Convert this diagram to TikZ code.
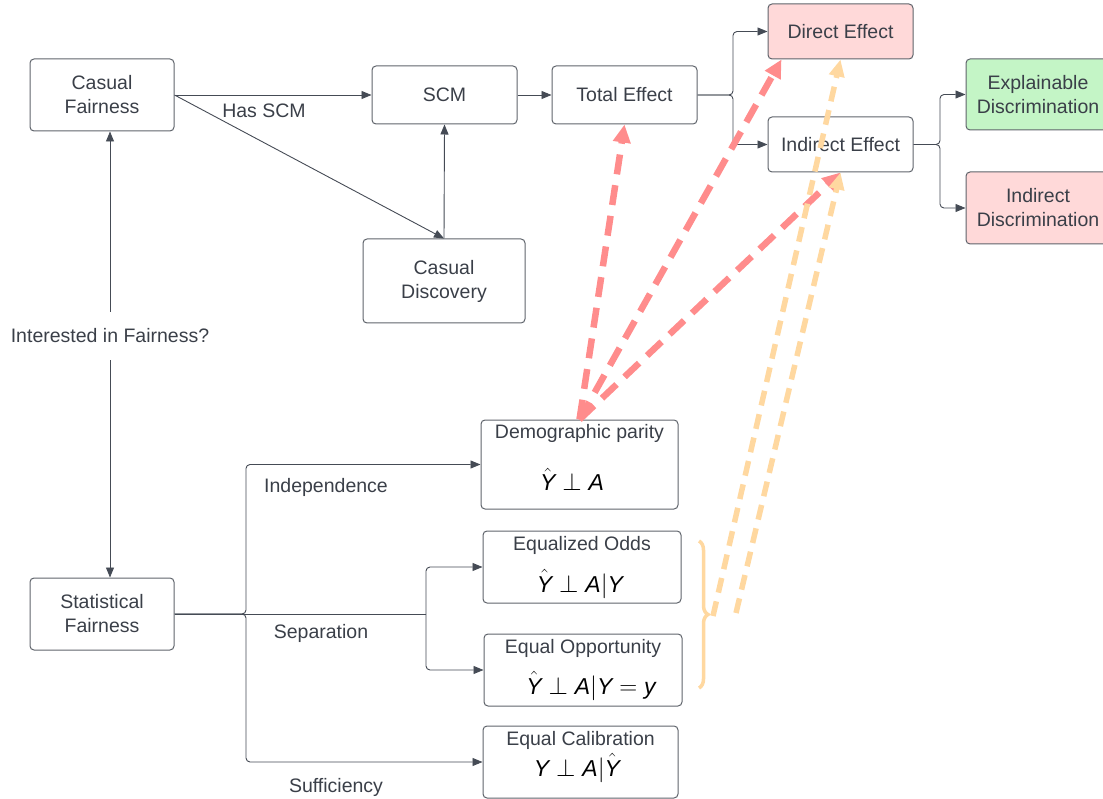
\documentclass[tikz,border=0pt]{standalone}
\usepackage{fontspec}
\setmainfont{Liberation Sans}
\usetikzlibrary{arrows.meta,decorations.pathreplacing,calc}
\definecolor{txt}{HTML}{3A3F48}
\definecolor{bord}{HTML}{5F646B}
\definecolor{arrc}{HTML}{454B55}
\definecolor{pinkfill}{HTML}{FFD9D9}
\definecolor{greenfill}{HTML}{C4F5C6}
\definecolor{reddash}{HTML}{FF8C8C}
\definecolor{orangedash}{HTML}{FFD8A0}
\newcommand{\sv}[1]{\hbox{\itshape #1}}
\begin{document}
\begin{tikzpicture}[x=1pt,y=-1pt,
  every node/.style={text=txt, font=\fontsize{19.5}{24}\selectfont},
  box/.style={draw=bord, line width=1pt, rounded corners=4pt, align=center, inner sep=0pt},
  lbl/.style={inner sep=0pt},
  mth/.style={inner sep=0pt, text=black, font=\fontsize{23}{26}\selectfont},
  arr/.style={draw=arrc, line width=0.9pt, -{Triangle[length=10pt,width=8pt]}},
  ln/.style={draw=arrc, line width=0.9pt},
  rdash/.style={draw=reddash, line width=6.5pt, dash pattern=on 20pt off 11pt, -{Triangle[length=18pt,width=17pt]}},
  odash/.style={draw=orangedash, line width=5.5pt, dash pattern=on 15pt off 9pt, -{Triangle[length=17pt,width=15pt]}}
]
\useasboundingbox (0,0) rectangle (1103,799);
\clip (0,0) rectangle (1103,799);

% top part
\node[box, minimum width=144pt, minimum height=72pt] (cf) at (102,95) {Casual\\Fairness};
\node[box, minimum width=145pt, minimum height=58pt] (scm) at (444.5,95) {SCM};
\node[box, minimum width=145pt, minimum height=58pt] (te) at (624.5,95) {Total Effect};
\node[box, fill=pinkfill, minimum width=145pt, minimum height=55pt] (de) at (840.5,31.5) {Direct Effect};
\node[box, minimum width=145pt, minimum height=55pt] (ie) at (840.5,144.5) {Indirect Effect};
\node[box, fill=greenfill, minimum width=144pt, minimum height=71pt] (ed) at (1038,94.5) {Explainable\\Discrimination};
\node[box, fill=pinkfill, minimum width=144pt, minimum height=72pt] (id) at (1038,208) {Indirect\\Discrimination};
\node[box, minimum width=162pt, minimum height=84pt] (cd) at (444,281) {Casual\\Discovery};
\node[lbl, minimum height=48pt] (ifq) at (110,336) {Interested in Fairness?};
\node[lbl] (hasscm) at (264,111) {Has SCM};

% bottom part
\node[box, minimum width=144pt, minimum height=72pt] (sf) at (102,614) {Statistical\\Fairness};
\node[box, minimum width=197pt, minimum height=89pt] (dp) at (579.5,464.5) {};
\node[lbl] (dpt) at (579.5,433) {Demographic parity};
\node[mth] (dpm) at (572,479) {$\hat{\sv{Y}}\perp \sv{A}$};
\node[box, minimum width=198pt, minimum height=72pt] (eo) at (582,567) {};
\node[lbl] (eot) at (582,545) {Equalized Odds};
\node[mth] (eom) at (580,584) {$\hat{\sv{Y}}\perp \sv{A}|\sv{Y}$};
\node[box, minimum width=198pt, minimum height=72pt] (eop) at (583,670) {};
\node[lbl] (eopt) at (583,648) {Equal Opportunity};
\node[mth] (eopm) at (591,686) {$\hat{\sv{Y}}\perp \sv{A}|\sv{Y}=\sv{y}$};
\node[box, minimum width=195pt, minimum height=72pt] (ec) at (580.5,762) {};
\node[lbl] (ect) at (580.5,740) {Equal Calibration};
\node[mth] (ecm) at (577,768) {$\sv{Y}\perp \sv{A}|\hat{\sv{Y}}$};

\node[lbl] (indep) at (326,487) {Independence};
\node[lbl] (sep) at (321,633) {Separation};
\node[lbl] (suff) at (336,787) {Sufficiency};

% connectors top
\draw[arr] (ifq.north) -- (ifq.north |- cf.south);
\draw[arr] (ifq.south) -- (ifq.south |- sf.north);
\draw[arr] (cf.east) -- (scm.west);
\draw[arr] (cf.east) -- (cd.north);
\draw[arr] (cd.north) -- (scm.south);
\draw[arr] (scm.east) -- (te.west);
\coordinate (tej) at (733,95);
\draw[arr, rounded corners=4pt] (te.east) -- (tej) |- (de.west);
\draw[arr, rounded corners=4pt] (te.east) -- (tej) |- (ie.west);
\coordinate (iej) at (940,144.5);
\draw[arr, rounded corners=4pt] (ie.east) -- (iej) |- (ed.west);
\draw[arr, rounded corners=4pt] (ie.east) -- (iej) |- (id.west);

% connectors bottom
\coordinate (sj) at (246,614);
\coordinate (sepj) at (426,614);
\draw[arr, rounded corners=4pt] (sf.east) -- (sj) |- (dp.west);
\draw[arr, rounded corners=4pt] (sf.east) -- (sj) |- (ec.west);
\draw[ln] (sf.east) -- (sepj);
\draw[arr, rounded corners=4pt] (sepj) |- (eo.west);
\draw[arr, rounded corners=4pt] (sepj) |- (eop.west);

% brace
\draw[draw=orangedash, line width=3.5pt, decorate, decoration={brace, amplitude=9pt}] (699,541) -- (699,688);
\coordinate (ob1) at (713,616);
\coordinate (ob2) at (736,613);

% dashed arrows
\coordinate (de2) at ([xshift=14pt]de.south west);
\draw[rdash] (dp.north) -- (te.south);
\draw[rdash] (dp.north) -- (de2);
\draw[rdash] (dp.north) -- (ie.south);
\draw[odash] (ob1) -- (de.south);
\draw[odash] (ob2) -- (ie.south);
\end{tikzpicture}
\end{document}
